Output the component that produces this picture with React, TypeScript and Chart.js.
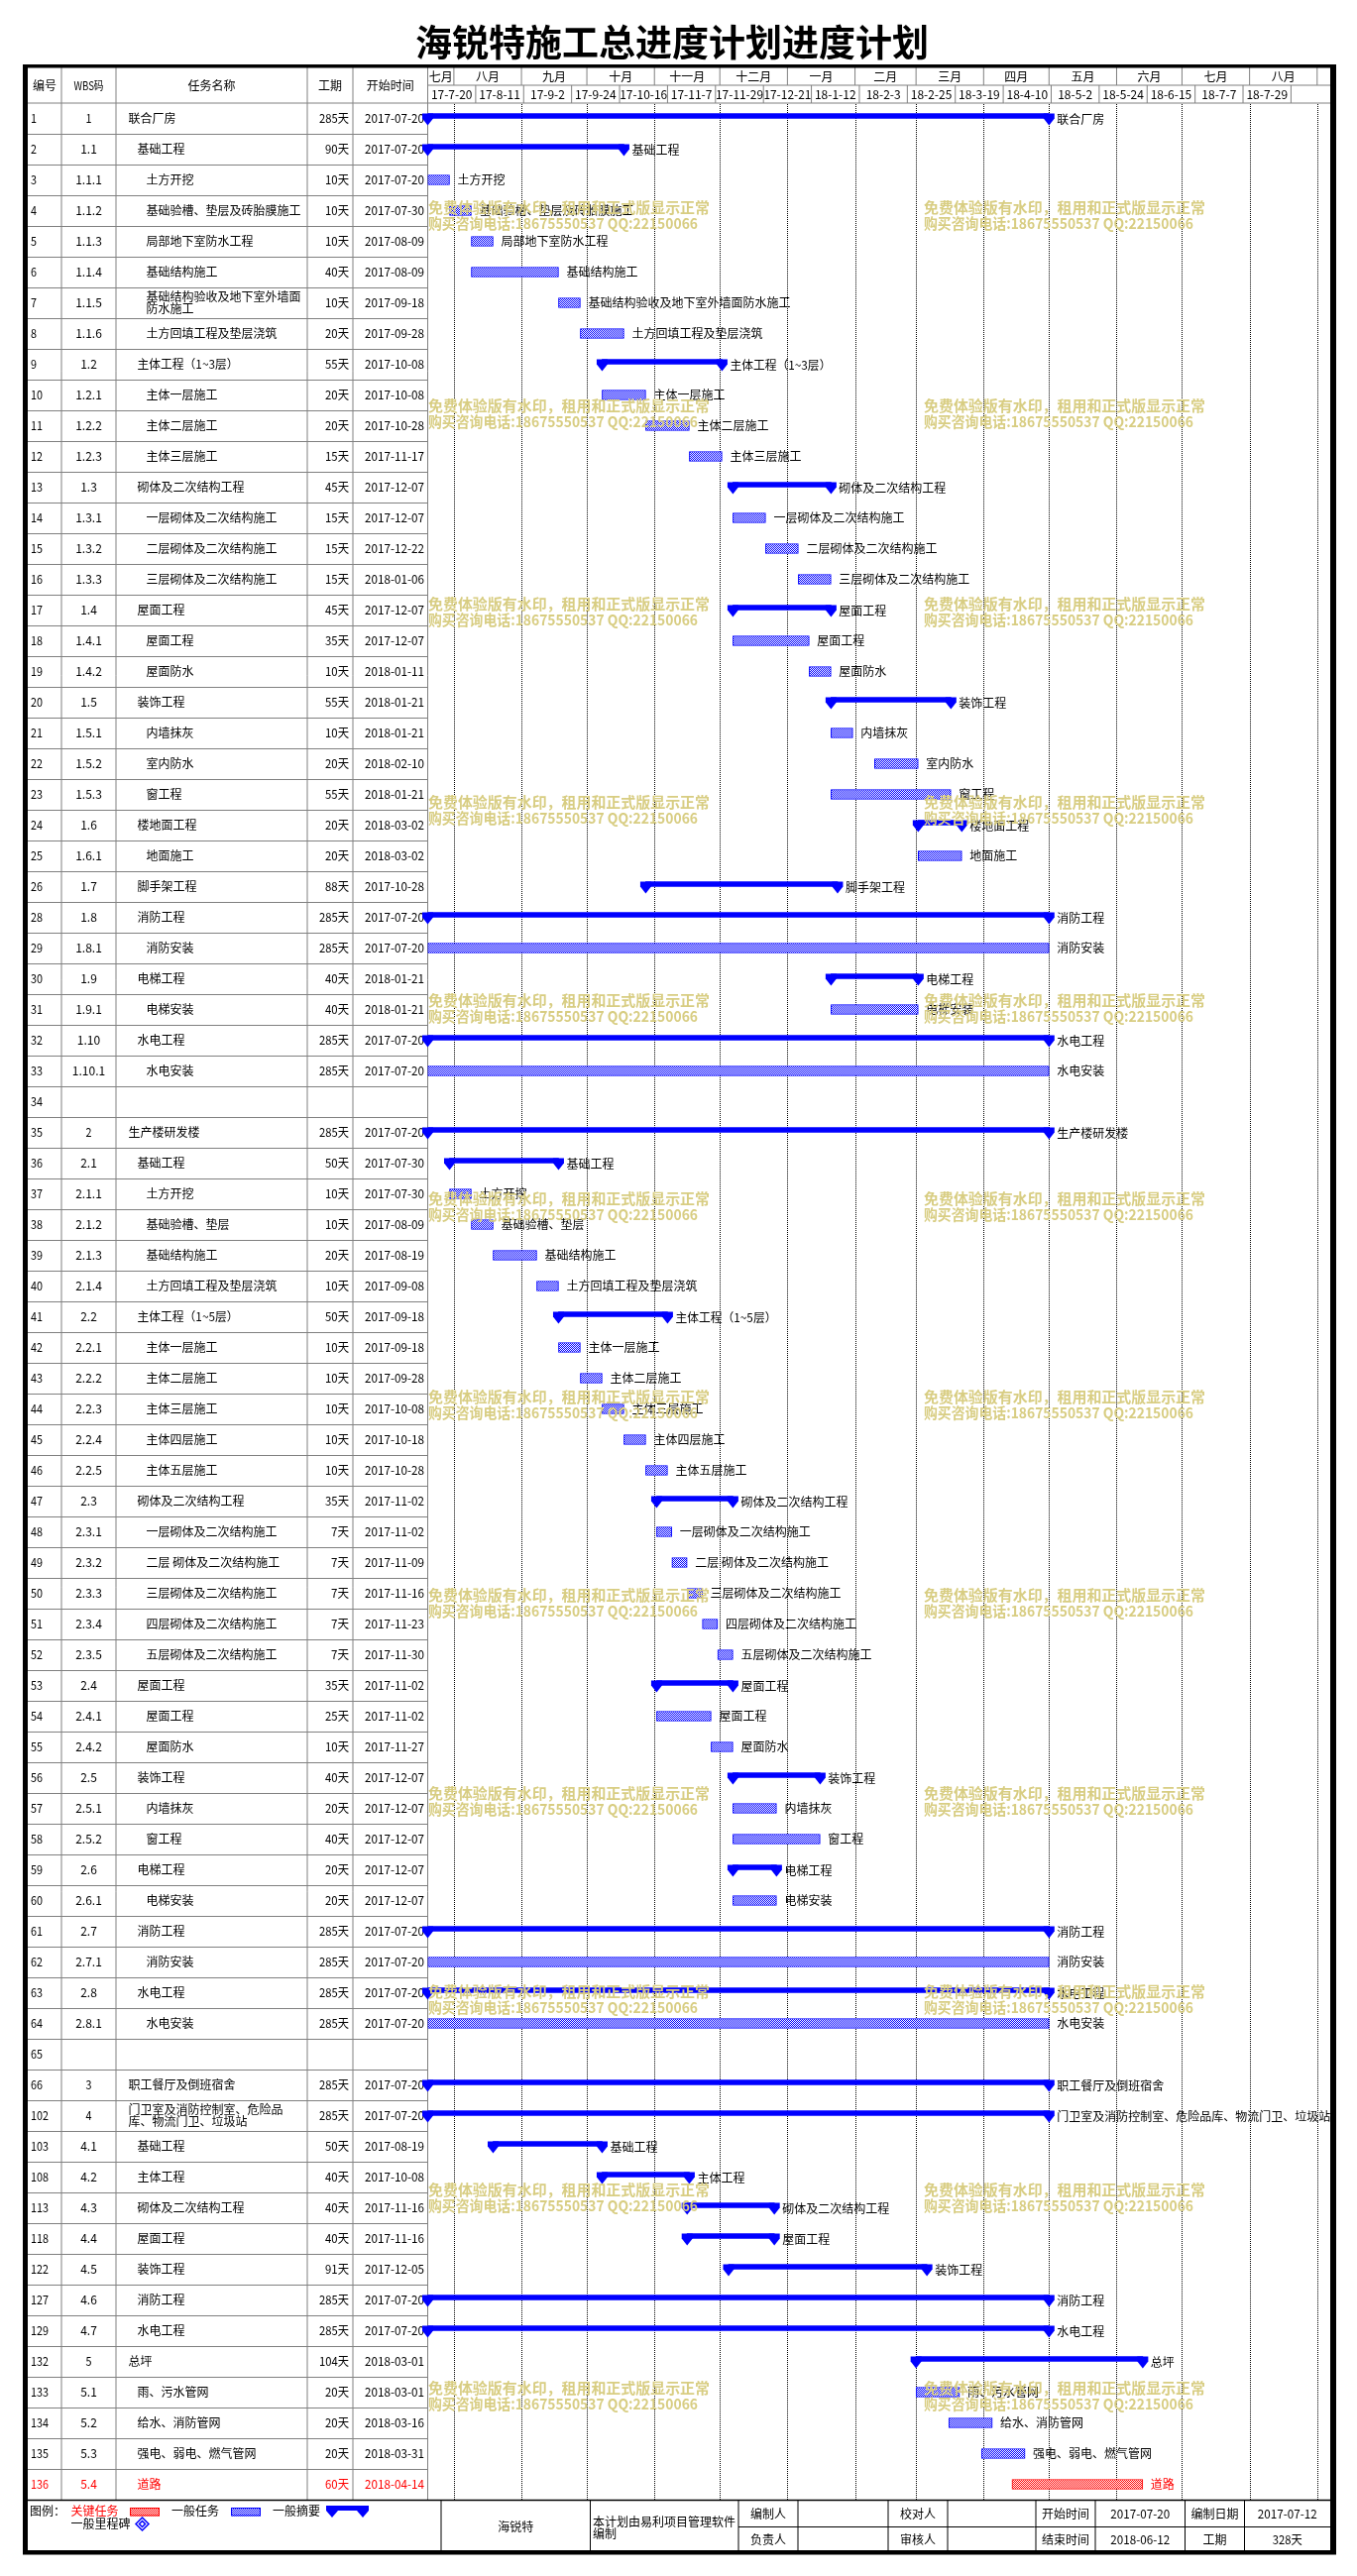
import React, { useEffect, useRef } from "react";
import { Chart, registerables } from "chart.js";

Chart.register(...registerables);

const W = 1369;
const H = 2599;

// ---------------- data ----------------
const chartTitle = "海锐特施工总进度计划进度计划";
const timelineStart = "2017-07-20";
const timelineEnd = "2018-09-07";

const rowIds = ["1","2","3","4","5","6","7","8","9","10","11","12","13","14","15","16","17","18","19","20","21","22","23","24","25","26",
  "28","29","30","31","32","33","34","35","36","37","38","39","40","41","42","43","44","45","46","47","48","49","50","51","52","53","54","55","56","57","58","59","60","61","62","63","64","65","66",
  "102","103","108","113","118","122","127","129","132","133","134","135","136"];

const wbsCodes = ["1","1.1","1.1.1","1.1.2","1.1.3","1.1.4","1.1.5","1.1.6","1.2","1.2.1","1.2.2","1.2.3","1.3","1.3.1","1.3.2","1.3.3","1.4","1.4.1","1.4.2","1.5","1.5.1","1.5.2","1.5.3","1.6","1.6.1","1.7",
  "1.8","1.8.1","1.9","1.9.1","1.10","1.10.1","","2","2.1","2.1.1","2.1.2","2.1.3","2.1.4","2.2","2.2.1","2.2.2","2.2.3","2.2.4","2.2.5","2.3","2.3.1","2.3.2","2.3.3","2.3.4","2.3.5","2.4","2.4.1","2.4.2","2.5","2.5.1","2.5.2","2.6","2.6.1","2.7","2.7.1","2.8","2.8.1","","3",
  "4","4.1","4.2","4.3","4.4","4.5","4.6","4.7","5","5.1","5.2","5.3","5.4"];

const taskNames = ["联合厂房","基础工程","土方开挖","基础验槽、垫层及砖胎膜施工","局部地下室防水工程","基础结构施工","基础结构验收及地下室外墙面防水施工","土方回填工程及垫层浇筑","主体工程（1~3层）","主体一层施工","主体二层施工","主体三层施工","砌体及二次结构工程","一层砌体及二次结构施工","二层砌体及二次结构施工","三层砌体及二次结构施工","屋面工程","屋面工程","屋面防水","装饰工程","内墙抹灰","室内防水","窗工程","楼地面工程","地面施工","脚手架工程",
  "消防工程","消防安装","电梯工程","电梯安装","水电工程","水电安装","","生产楼研发楼","基础工程","土方开挖","基础验槽、垫层","基础结构施工","土方回填工程及垫层浇筑","主体工程（1~5层）","主体一层施工","主体二层施工","主体三层施工","主体四层施工","主体五层施工","砌体及二次结构工程","一层砌体及二次结构施工","二层 砌体及二次结构施工","三层砌体及二次结构施工","四层砌体及二次结构施工","五层砌体及二次结构施工","屋面工程","屋面工程","屋面防水","装饰工程","内墙抹灰","窗工程","电梯工程","电梯安装","消防工程","消防安装","水电工程","水电安装","","职工餐厅及倒班宿舍",
  "门卫室及消防控制室、危险品库、物流门卫、垃圾站","基础工程","主体工程","砌体及二次结构工程","屋面工程","装饰工程","消防工程","水电工程","总坪","雨、污水管网","给水、消防管网","强电、弱电、燃气管网","道路"];

const durations = [285,90,10,10,10,40,10,20,55,20,20,15,45,15,15,15,45,35,10,55,10,20,55,20,20,88,
  285,285,40,40,285,285,null,285,50,10,10,20,10,50,10,10,10,10,10,35,7,7,7,7,7,35,25,10,40,20,40,20,20,285,285,285,285,null,285,
  285,50,40,40,40,91,285,285,104,20,20,20,60];

const startDates = ["2017-07-20","2017-07-20","2017-07-20","2017-07-30","2017-08-09","2017-08-09","2017-09-18","2017-09-28","2017-10-08","2017-10-08","2017-10-28","2017-11-17","2017-12-07","2017-12-07","2017-12-22","2018-01-06","2017-12-07","2017-12-07","2018-01-11","2018-01-21","2018-01-21","2018-02-10","2018-01-21","2018-03-02","2018-03-02","2017-10-28",
  "2017-07-20","2017-07-20","2018-01-21","2018-01-21","2017-07-20","2017-07-20","","2017-07-20","2017-07-30","2017-07-30","2017-08-09","2017-08-19","2017-09-08","2017-09-18","2017-09-18","2017-09-28","2017-10-08","2017-10-18","2017-10-28","2017-11-02","2017-11-02","2017-11-09","2017-11-16","2017-11-23","2017-11-30","2017-11-02","2017-11-02","2017-11-27","2017-12-07","2017-12-07","2017-12-07","2017-12-07","2017-12-07","2017-07-20","2017-07-20","2017-07-20","2017-07-20","","2017-07-20",
  "2017-07-20","2017-08-19","2017-10-08","2017-11-16","2017-11-16","2017-12-05","2017-07-20","2017-07-20","2018-03-01","2018-03-01","2018-03-16","2018-03-31","2018-04-14"];

// S = 一般摘要, T = 一般任务, C = 关键任务, "" = empty row
const rowKinds = ["S","S","T","T","T","T","T","T","S","T","T","T","S","T","T","T","S","T","T","S","T","T","T","S","T","S",
  "S","T","S","T","S","T","","S","S","T","T","T","T","S","T","T","T","T","T","S","T","T","T","T","T","S","T","T","S","T","T","S","T","S","T","S","T","","S",
  "S","S","S","S","S","S","S","S","S","T","T","T","C"];

const monthBoundaries = ["2017-07-20","2017-08-01","2017-09-01","2017-10-01","2017-11-01","2017-12-01","2018-01-01","2018-02-01","2018-03-01","2018-04-01","2018-05-01","2018-06-01","2018-07-01","2018-08-01","2018-09-01"];
const monthLabels = ["七月","八月","九月","十月","十一月","十二月","一月","二月","三月","四月","五月","六月","七月","八月",""];
const dateTickLabels = ["17-7-20","17-8-11","17-9-2","17-9-24","17-10-16","17-11-7","17-11-29","17-12-21","18-1-12","18-2-3","18-2-25","18-3-19","18-4-10","18-5-2","18-5-24","18-6-15","18-7-7","18-7-29"];
const tableHeaders = ["编号","WBS码","任务名称","工期","开始时间"];

const watermarkLines = ["免费体验版有水印，租用和正式版显示正常","购买咨询电话:18675550537 QQ:22150066"];

const legendTitle = "图例：";
const legendCritical = "关键任务";
const legendTask = "一般任务";
const legendSummary = "一般摘要";
const legendMilestone = "一般里程碑";

const footerCompany = "海锐特";
const footerNote = "本计划由易利项目管理软件编制";
const footerTopRow = ["编制人","","校对人","","开始时间","2017-07-20","编制日期","2017-07-12"];
const footerBottomRow = ["负责人","","审核人","","结束时间","2018-06-12","工期","328天"];

// ---------------- helpers ----------------
const DAY = 86400000;
const parseDate = (s: string) => {
  const p = s.split("-").map(Number);
  const y = p[0] < 100 ? 2000 + p[0] : p[0];
  return Date.UTC(y, p[1] - 1, p[2]);
};
const BASE = parseDate(timelineStart);
const dayOf = (s: string) => (parseDate(s) - BASE) / DAY;

const FONT = '"Noto Sans CJK SC", "Noto Sans", sans-serif';

function txt(ctx: any, s: string, x: number, y: number, align: string, size = 12, color = "#000", weight = "normal") {
  if (!s) return;
  ctx.font = `${weight} ${size}px ${FONT}`;
  ctx.fillStyle = color;
  ctx.textAlign = align;
  ctx.textBaseline = "middle";
  let target = 0;
  for (const ch of s) target += ch.charCodeAt(0) > 255 ? size : size / 2;
  const nat = ctx.measureText(s).width;
  if (nat > target) ctx.fillText(s, x, y, target);
  else ctx.fillText(s, x, y);
}

function makePattern(ctx: any, color: string) {
  const c = document.createElement("canvas");
  c.width = 2; c.height = 2;
  const g = c.getContext("2d")!;
  g.fillStyle = "#ffffff"; g.fillRect(0, 0, 2, 2);
  g.fillStyle = color; g.fillRect(0, 0, 1, 1); g.fillRect(1, 1, 1, 1);
  return ctx.createPattern(c, "repeat");
}

function summaryCap(ctx: any, cx: number, top: number, hw: number, thick: number, drop: number) {
  ctx.beginPath();
  ctx.moveTo(cx - hw, top);
  ctx.lineTo(cx + hw, top);
  ctx.lineTo(cx + hw, top + thick);
  ctx.lineTo(cx, top + drop);
  ctx.lineTo(cx - hw, top + thick);
  ctx.closePath();
  ctx.fill();
}

function hline(ctx: any, x1: number, x2: number, y: number) {
  ctx.beginPath(); ctx.moveTo(x1, y); ctx.lineTo(x2, y); ctx.stroke();
}
function vline(ctx: any, x: number, y1: number, y2: number) {
  ctx.beginPath(); ctx.moveTo(x, y1); ctx.lineTo(x, y2); ctx.stroke();
}

// layout
const colX = [28, 62, 117, 310, 356, 431.5];
const headTop = 68, headMid = 86, headBot = 104, bodyBot = 2522, frameBot = 2573;
const frameL = 23, frameR = 1348, ganttR = 1342;
const SUMMARY_SHIFT = 2.5 / 31;

export default function App() {
  const ref = useRef<HTMLCanvasElement>(null);

  useEffect(() => {
    const canvas = ref.current!;
    const ctx0 = canvas.getContext("2d")!;
    const blueFill = makePattern(ctx0, "#0000ff");
    const redFill = makePattern(ctx0, "#ff0000");
    const n = rowIds.length;

    const rows = rowIds.map((id, i) => {
      const s = startDates[i] ? dayOf(startDates[i]) : null;
      const d = durations[i];
      return { i, s, e: s !== null && d !== null ? s + (d as number) : null, kind: rowKinds[i] };
    });

    const taskData = rows.filter(r => r.kind === "T").map(r => ({ x: [r.s, r.e], y: r.i }));
    const critData = rows.filter(r => r.kind === "C").map(r => ({ x: [r.s, r.e], y: r.i }));
    const sumData = rows.filter(r => r.kind === "S").map(r => ({ x: [r.s, r.e], y: r.i }));
    const sumRows = rows.filter(r => r.kind === "S").map(r => r.i);
    const taskRows = rows.filter(r => r.kind === "T").map(r => r.i);
    const critRows = rows.filter(r => r.kind === "C").map(r => r.i);

    const plugin = {
      id: "ganttTable",
      beforeDraw(chart: any) {
        const ctx = chart.ctx;
        const xs = chart.scales.x;
        const ys = chart.scales.y;
        ctx.save();
        ctx.fillStyle = "#ffffff";
        ctx.fillRect(0, 0, W, H);

        // title
        txt(ctx, chartTitle, 678, 43, "center", 37, "#000", "bold");

        // grid lines of the table
        ctx.strokeStyle = "#808080";
        ctx.lineWidth = 1;
        for (let k = 1; k < colX.length; k++) vline(ctx, colX[k], headTop, bodyBot);
        hline(ctx, colX[0], ganttR, headBot);
        for (let i = 0; i < n - 1; i++) {
          const yb = Math.round(ys.getPixelForValue(i + 0.5)) + 0.5;
          hline(ctx, colX[0], colX[5], yb);
        }
        // gantt header
        hline(ctx, colX[5], ganttR, headMid);
        const mx = monthBoundaries.map(d => xs.getPixelForValue(dayOf(d)));
        mx.push(xs.getPixelForValue(dayOf(timelineEnd)));
        for (let k = 1; k < mx.length - 1; k++) vline(ctx, mx[k], headTop, headMid);
        for (let k = 0; k < monthLabels.length; k++) {
          txt(ctx, monthLabels[k], (mx[k] + mx[k + 1]) / 2, 77.5, "center");
        }
        const tickDays = dateTickLabels.map(l => dayOf(l));
        const step = tickDays[1] - tickDays[0];
        for (let k = 0; k < tickDays.length; k++) {
          const a = xs.getPixelForValue(tickDays[k]);
          const b = xs.getPixelForValue(tickDays[k] + step);
          vline(ctx, b, headMid, headBot);
          txt(ctx, dateTickLabels[k], (a + b) / 2, 95.5, "center");
        }

        // table header text
        for (let k = 0; k < tableHeaders.length; k++) {
          txt(ctx, tableHeaders[k], (colX[k] + colX[k + 1]) / 2, 86.5, "center");
        }

        // table body text
        for (let i = 0; i < n; i++) {
          const y = ys.getPixelForValue(i);
          const col = rowKinds[i] === "C" ? "#ff0000" : "#000";
          txt(ctx, rowIds[i], 31, y, "left", 12, col);
          txt(ctx, wbsCodes[i], (colX[1] + colX[2]) / 2, y, "center", 12, col);
          const lvl = wbsCodes[i] ? wbsCodes[i].split(".").length : 1;
          const nx = 129.5 + (lvl - 1) * 9;
          const name = taskNames[i];
          if (name.length > 13) {
            txt(ctx, name.slice(0, 13), nx, y - 6, "left", 12, col);
            txt(ctx, name.slice(13), nx, y + 6, "left", 12, col);
          } else {
            txt(ctx, name, nx, y, "left", 12, col);
          }
          if (durations[i] !== null) txt(ctx, durations[i] + "天", colX[4] - 4, y, "right", 12, col);
          txt(ctx, startDates[i], colX[5] - 3.5, y, "right", 12, col);
        }

        // dotted month lines
        ctx.strokeStyle = "#000";
        ctx.setLineDash([1, 1]);
        for (let k = 1; k < monthBoundaries.length; k++) {
          const x = Math.round(mx[k]) + 0.5;
          vline(ctx, x, headBot + 1, bodyBot);
        }
        ctx.setLineDash([]);
        ctx.restore();
      },
      afterDatasetsDraw(chart: any) {
        const ctx = chart.ctx;
        ctx.save();
        // summary caps + labels
        const sm = chart.getDatasetMeta(2);
        sm.data.forEach((el: any, j: number) => {
          const top = el.y - el.height / 2;
          ctx.fillStyle = "#0000ff";
          const x1 = Math.min(el.base, el.x), x2 = Math.max(el.base, el.x);
          summaryCap(ctx, x1, top, 5.5, 5, 12);
          summaryCap(ctx, x2, top, 5.5, 5, 12);
          txt(ctx, taskNames[sumRows[j]], x2 + 8, el.y + 3, "left");
        });
        const tm = chart.getDatasetMeta(0);
        tm.data.forEach((el: any, j: number) => {
          txt(ctx, taskNames[taskRows[j]], Math.max(el.base, el.x) + 8, el.y, "left");
        });
        const cm = chart.getDatasetMeta(1);
        cm.data.forEach((el: any, j: number) => {
          txt(ctx, taskNames[critRows[j]], Math.max(el.base, el.x) + 8, el.y, "left", 12, "#ff0000");
        });
        ctx.restore();
      },
      afterDraw(chart: any) {
        const ctx = chart.ctx;
        ctx.save();
        // watermark
        for (let k = 0; k < 12; k++) {
          const y = 209.5 + 200 * k;
          for (const x of [432, 932]) {
            ctx.font = `bold 15px ${FONT}`;
            ctx.fillStyle = "#d8cd82";
            ctx.textAlign = "left";
            ctx.textBaseline = "middle";
            ctx.fillText(watermarkLines[0], x, y, 284);
            ctx.fillText(watermarkLines[1], x, y + 16, 272);
          }
        }

        // footer
        ctx.strokeStyle = "#000";
        ctx.lineWidth = 1.5;
        hline(ctx, frameL, frameR, bodyBot + 0.5);
        ctx.lineWidth = 1;
        const fx = [445, 595.5, 745, 805, 896, 956, 1045, 1105, 1195.5, 1255.5, ganttR];
        for (let k = 0; k < fx.length - 1; k++) vline(ctx, fx[k], bodyBot, frameBot);
        const fmid = 2549.5;
        hline(ctx, fx[2], ganttR, fmid);
        txt(ctx, footerCompany, (fx[0] + fx[1]) / 2, 2549, "center");
        txt(ctx, footerNote.slice(0, 12), fx[1] + 2.5, 2544, "left");
        txt(ctx, footerNote.slice(12), fx[1] + 2.5, 2556, "left");
        for (let k = 0; k < footerTopRow.length; k++) {
          const cx = (fx[k + 2] + fx[k + 3]) / 2;
          txt(ctx, footerTopRow[k], cx, 2536.5, "center");
          txt(ctx, footerBottomRow[k], cx, 2562, "center");
        }

        // legend
        txt(ctx, legendTitle, 30, 2533.5, "left");
        txt(ctx, legendCritical, 71.5, 2533.5, "left", 12, "#ff0000");
        ctx.fillStyle = redFill; ctx.fillRect(131, 2530, 30, 8.5);
        ctx.strokeStyle = "#ff0000"; ctx.strokeRect(131.5, 2530.5, 29, 7.5);
        txt(ctx, legendTask, 173, 2533.5, "left");
        ctx.fillStyle = blueFill; ctx.fillRect(233, 2530, 30, 8.5);
        ctx.strokeStyle = "#0000ff"; ctx.strokeRect(233.5, 2530.5, 29, 7.5);
        txt(ctx, legendSummary, 275, 2533.5, "left");
        ctx.fillStyle = "#0000ff";
        ctx.fillRect(335, 2528, 31, 5);
        summaryCap(ctx, 335, 2528, 6, 5, 12);
        summaryCap(ctx, 366, 2528, 6, 5, 12);
        txt(ctx, legendMilestone, 71.5, 2546, "left");
        ctx.strokeStyle = "#0000ff";
        ctx.lineWidth = 1.5;
        const dcx = 143.5, dcy = 2546.5;
        for (const r of [6.5, 3]) {
          ctx.beginPath();
          ctx.moveTo(dcx, dcy - r); ctx.lineTo(dcx + r, dcy); ctx.lineTo(dcx, dcy + r); ctx.lineTo(dcx - r, dcy); ctx.closePath(); ctx.stroke();
        }

        // frame
        ctx.fillStyle = "#000";
        ctx.fillRect(frameL, 65, frameR - frameL, 3.5);
        ctx.fillRect(frameL, 65, 5, 2577 - 65);
        ctx.fillRect(ganttR, 65, frameR - ganttR, 2577 - 65);
        ctx.fillRect(frameL, frameBot, frameR - frameL, 4.5);
        ctx.restore();
      },
    };

    const yScaleBase = { type: "linear", axis: "y", reverse: true, display: false, offset: false, bounds: "data", grace: 0, grid: { offset: false } };

    const chart = new Chart(canvas, {
      type: "bar",
      data: {
        datasets: [
          { label: legendTask, data: taskData as any, yAxisID: "y", backgroundColor: blueFill as any, borderColor: "#0000ff", borderWidth: 1, borderSkipped: false, barThickness: 10, grouped: false } as any,
          { label: legendCritical, data: critData as any, yAxisID: "y", backgroundColor: redFill as any, borderColor: "#ff0000", borderWidth: 1, borderSkipped: false, barThickness: 10, grouped: false } as any,
          { label: legendSummary, data: sumData as any, yAxisID: "ys", backgroundColor: "#0000ff", borderWidth: 0, borderSkipped: false, barThickness: 5, grouped: false } as any,
        ],
      },
      options: {
        indexAxis: "y",
        animation: false,
        responsive: false,
        events: [],
        layout: { padding: { left: colX[5], right: W - ganttR, top: headBot, bottom: H - bodyBot } },
        scales: {
          x: { type: "linear", min: 0, max: dayOf(timelineEnd), display: false, offset: false },
          y: { ...yScaleBase, min: -0.5, max: rowIds.length - 0.5 },
          ys: { ...yScaleBase, min: -0.5 + SUMMARY_SHIFT, max: rowIds.length - 0.5 + SUMMARY_SHIFT },
        } as any,
        plugins: { legend: { display: false }, tooltip: { enabled: false }, title: { display: false } },
      } as any,
      plugins: [plugin as any],
    });
    return () => chart.destroy();
  }, []);

  return (
    <div style={{ position: "absolute", left: 0, top: 0, width: W, height: H, background: "#fff" }}>
      <canvas ref={ref} width={W} height={H} style={{ display: "block", width: W, height: H }} />
    </div>
  );
}
